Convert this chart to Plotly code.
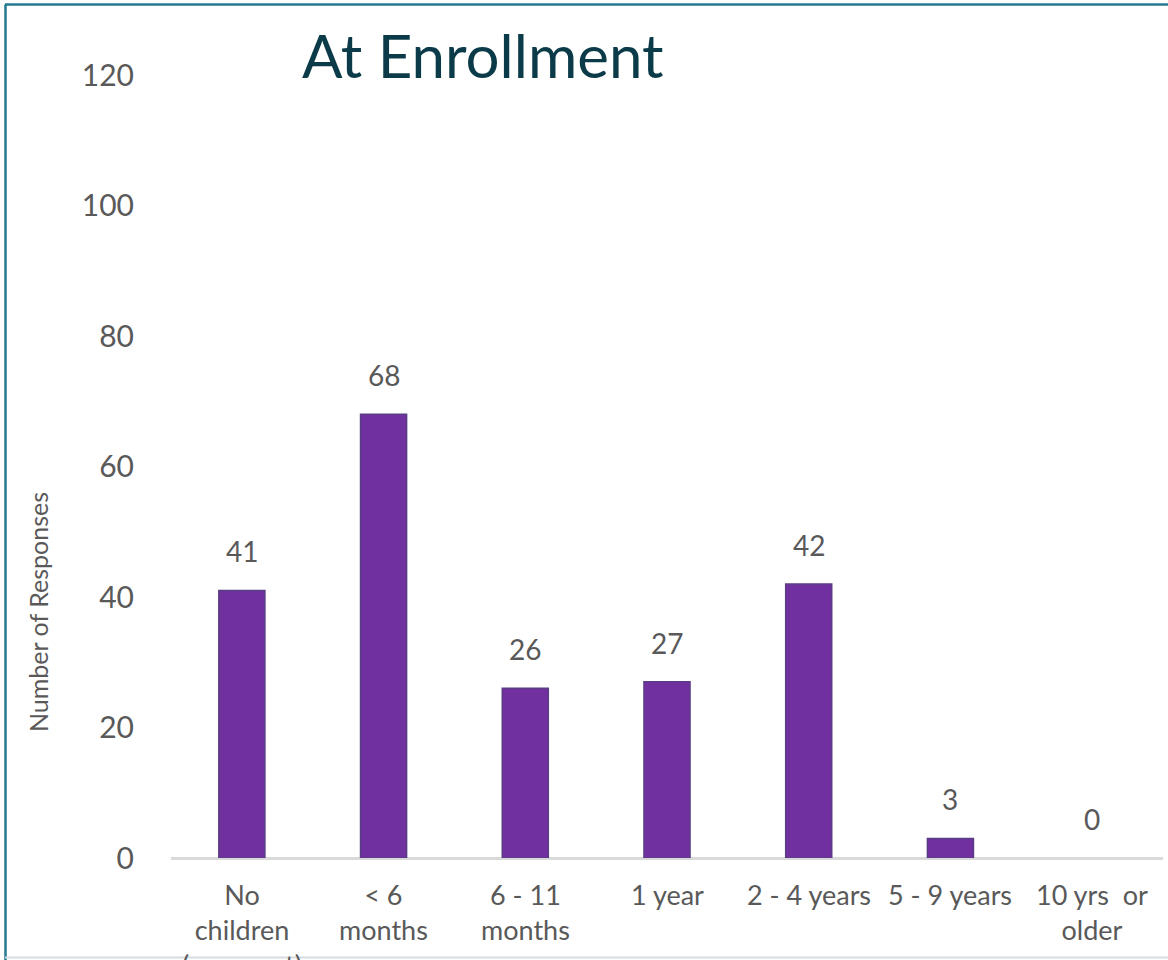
import plotly.graph_objects as go

# Age of youngest child at enrollment
categories = ["No<br>children<br>(pregnant)", "< 6<br>months", "6 - 11<br>months",
              "1 year", "2 - 4 years", "5 - 9 years", "10 yrs  or<br>older"]
responses = [41, 68, 26, 27, 42, 3, 0]
y_ticks = [0, 20, 40, 60, 80, 100, 120]

W, H = 1168, 960
FONT = "Lato"
GRAY = "#595959"
PURPLE = "#7030A0"

keys = list(range(len(categories)))

fig = go.Figure()
fig.add_trace(go.Bar(
    x=keys, y=responses,
    marker=dict(color=PURPLE,
                line=dict(color="#5A3C85",
                          width=[1.5 if v > 0 else 0 for v in responses])),
    width=0.325, hoverinfo="skip",
))

# value labels above bars
annotations = []
for k, v in zip(keys, responses):
    annotations.append(dict(x=k, y=v, xref="x", yref="y", text=str(v),
                            showarrow=False, yanchor="middle", yshift=39,
                            font=dict(family=FONT, size=28, color=GRAY)))

# category labels below the axis
for k, c in zip(keys, categories):
    annotations.append(dict(x=k, y=1 - 876 / H, xref="x", yref="paper", text=c,
                            showarrow=False, yanchor="top", align="center",
                            font=dict(family=FONT, size=27, color=GRAY)))

# axis title
annotations.append(dict(x=38 / W, y=1 - 612 / H, xref="paper", yref="paper",
                        text="Number of Responses", textangle=-90, showarrow=False,
                        xanchor="center", yanchor="middle",
                        font=dict(family=FONT, size=25, color=GRAY)))

# chart title
annotations.append(dict(x=483 / W, y=1 - 55 / H, xref="paper", yref="paper",
                        text="At Enrollment", showarrow=False,
                        xanchor="center", yanchor="middle",
                        font=dict(family=FONT, size=60, color="#0B3A48")))

shapes = [
    # frame
    dict(type="line", xref="paper", yref="paper", x0=5 / W, x1=1, y0=1 - 4.5 / H, y1=1 - 4.5 / H,
         line=dict(color="#23798F", width=2.5)),
    dict(type="line", xref="paper", yref="paper", x0=5.5 / W, x1=5.5 / W, y0=0, y1=1 - 4.5 / H,
         line=dict(color="#23798F", width=2.5)),
    dict(type="line", xref="paper", yref="paper", x0=5 / W, x1=1, y0=1 - 957.5 / H, y1=1 - 957.5 / H,
         line=dict(color="#D5DCE2", width=2)),
]

fig.update_layout(
    width=W, height=H,
    margin=dict(l=0, r=0, t=0, b=0, pad=0, autoexpand=False),
    paper_bgcolor="white", plot_bgcolor="white",
    showlegend=False,
    annotations=annotations,
    shapes=shapes,
    xaxis=dict(domain=[171 / W, 1163 / W], range=[-0.5, len(categories) - 0.5],
               showticklabels=False, ticks="", showgrid=False, zeroline=False,
               showline=False, automargin=False),
    yaxis=dict(domain=[1 - 858 / H, 1 - 75 / H], range=[0, 120],
               tickvals=y_ticks, ticks="", showgrid=False, zeroline=True,
               zerolinecolor="#D9D9D9", zerolinewidth=2.5, automargin=False,
               ticklabelstandoff=36,
               tickfont=dict(family=FONT, size=30, color=GRAY)),
)

fig.write_html("out.html")
